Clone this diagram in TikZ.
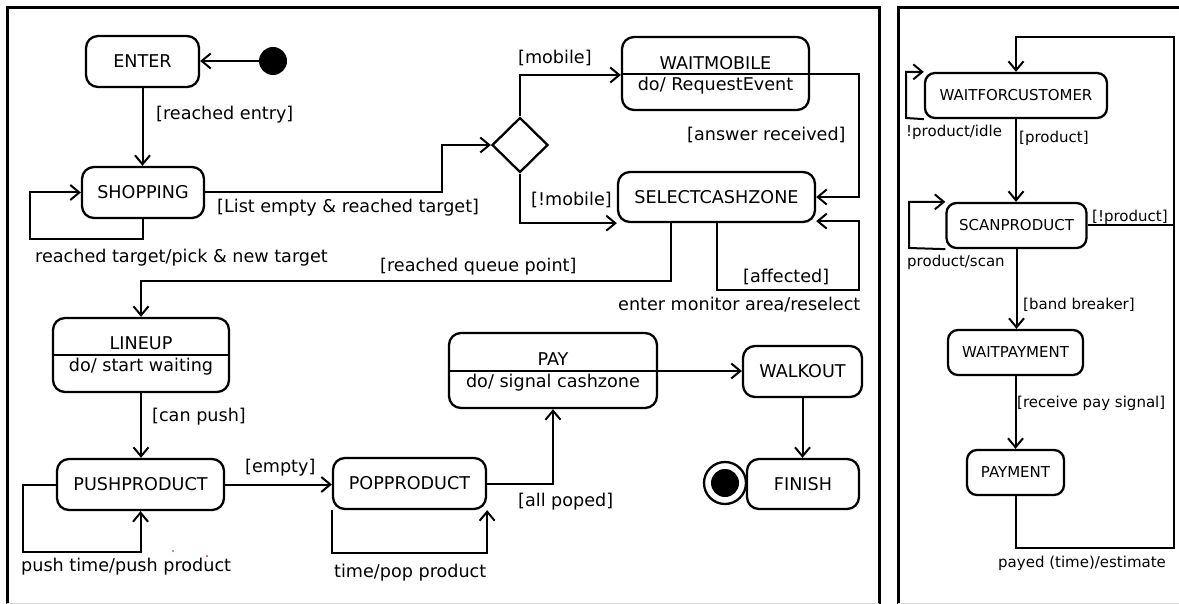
\documentclass[tikz,border=0pt]{standalone}
\usepackage{fontspec}
\setmainfont{DejaVu Sans}
\usetikzlibrary{arrows.meta,shapes.geometric,calc}
\newcommand\mainsize{\fontsize{17.6}{20}\selectfont}
\newcommand\sidesize{\fontsize{15}{18}\selectfont}
\tikzset{
  statebox/.style={draw, line width=2.3pt, rounded corners=12pt, inner sep=0pt, font=\mainsize},
  sidebox/.style={draw, line width=2.3pt, rounded corners=10pt, inner sep=0pt, font=\sidesize},
  txt/.style={inner sep=0pt, font=\mainsize},
  lbl/.style={inner sep=0pt, anchor=west, font=\mainsize},
  slbl/.style={inner sep=0pt, anchor=west, font=\sidesize},
  wire/.style={line width=2pt},
  conn/.style={wire, -{Straight Barb[length=9pt,width=15pt]}},
  frame/.style={line width=3pt},
}
\begin{document}
\begin{tikzpicture}[x=1pt,y=-1pt]
\useasboundingbox (0,0) rectangle (1179,604);
\fill[white] (0,0) rectangle (1179,604);

% panel frames
\draw[frame] (7,604) -- (7,7.5) -- (879,7.5) -- (879,604);
\draw[frame] (898,604) -- (898,7.5) -- (1181,7.5);
\draw[black!15, line width=1pt] (7,603) -- (879,603) (898,603) -- (1179,603);

% ---------- customer state machine ----------
\node[circle, fill=black, minimum size=28pt, inner sep=0pt] (init) at (273,61) {};
\node[statebox, minimum width=113pt, minimum height=51pt] (enter) at (142.5,61.5) {ENTER};
\node[statebox, minimum width=122pt, minimum height=51pt] (shopping) at (143,192.5) {SHOPPING};
\node[draw, diamond, line width=2.3pt, minimum width=56pt, minimum height=55pt, inner sep=0pt] (dec) at (520,145) {};

\node[statebox, minimum width=187pt, minimum height=73pt] (waitmobile) at (715.5,73.5) {};
\draw[line width=2pt] (waitmobile.west |- 0,74) -- (waitmobile.east |- 0,74);
\node[txt] (wmtitle) at (715.5,63) {WAITMOBILE};
\node[txt] (wmdo) at (715.5,85.5) {do/ RequestEvent};

\node[statebox, minimum width=197pt, minimum height=50pt] (select) at (716.5,197) {SELECTCASHZONE};

\node[statebox, minimum width=176pt, minimum height=74pt] (lineup) at (141,355) {};
\draw[line width=2pt] (lineup.west |- 0,355) -- (lineup.east |- 0,355);
\node[txt] (lutitle) at (141,343) {LINEUP};
\node[txt] (ludo) at (141,366.5) {do/ start waiting};

\node[statebox, minimum width=167pt, minimum height=51pt] (push) at (140.5,484.5) {PUSHPRODUCT};
\node[statebox, minimum width=153pt, minimum height=51pt] (pop) at (409.5,483.5) {POPPRODUCT};

\node[statebox, minimum width=208pt, minimum height=75pt] (pay) at (553,370.5) {};
\draw[line width=2pt] (pay.west |- 0,371) -- (pay.east |- 0,371);
\node[txt] (paytitle) at (553,359) {PAY};
\node[txt] (paydo) at (553,382.5) {do/ signal cashzone};

\node[statebox, minimum width=119pt, minimum height=51pt] (walkout) at (802.5,371.5) {WALKOUT};
\node[statebox, minimum width=112pt, minimum height=50pt] (finish) at (803,484) {FINISH};
\node[circle, draw, line width=2.3pt, minimum size=42pt, inner sep=0pt] (final) at (725,483) {};
\node[circle, fill=black, minimum size=28pt, inner sep=0pt] (finaldot) at (725,483) {};

% transitions
\draw[conn] (init) -- (enter.east |- init);
\draw[conn] (enter.south) -- (enter.south |- shopping.north);
\node[lbl] at (156,115) {[reached entry]};

\draw[conn] (shopping.south) |- (30,239) |- (shopping.west);
\node[lbl] at (35,258) {reached target/pick \& new target};

\draw[conn] (shopping.east) -| (442,145) -- (dec.west);
\node[lbl] at (217,208) {[List empty \& reached target]};

\draw[conn] (dec.north) |- (waitmobile.west |- 0,75);
\node[lbl] at (518,58) {[mobile]};

\draw[conn] (dec.south) |- (select.south west);
\node[lbl] at (531,200) {[!mobile]};

\draw[conn] (waitmobile.east |- 0,74) -- (859,74) |- (select.east);
\node[lbl] at (687,135) {[answer received]};

\draw[conn] (select.south) |- (859,290) |- ([yshift=2pt]select.south east);
\node[lbl] at (743,277) {[affected]};
\node[lbl] at (618,305) {enter monitor area/reselect};

\draw[conn] ([xshift=-45.5pt]select.south) |- (lineup.north |- 0,281) -- (lineup.north);
\node[lbl] at (380,267) {[reached queue point]};

\draw[conn] (lineup.south) -- (lineup.south |- push.north);
\node[lbl] at (152,417) {[can push]};

\draw[conn] (push.west) -- (23,484.5) |- (push.south |- 0,552) -- (push.south);
\node[lbl] at (21,567) {push time/push product};
\fill[red] (173,551) circle (0.9pt) (207,556) circle (1pt);

\draw[conn] (push.east) -- (push.east -| pop.west);
\node[lbl] at (245,468) {[empty]};

\draw[conn] (pop.south west) |- (pop.south east |- 0,553) -- (pop.south east);
\node[lbl] at (334,573) {time/pop product};

\draw[conn] (pop.east) -| (pay.south);
\node[lbl] at (518,502) {[all poped]};

\draw[conn] (pay.east |- 0,371) -- (walkout.west |- 0,371);
\draw[conn] (walkout.south) -- (walkout.south |- finish.north);

% ---------- cash desk state machine ----------
\node[sidebox, minimum width=182pt, minimum height=45pt] (wfc) at (1016,95.5) {WAITFORCUSTOMER};
\node[sidebox, minimum width=140pt, minimum height=45pt] (scan) at (1016.5,225.5) {SCANPRODUCT};
\node[sidebox, minimum width=135pt, minimum height=45pt] (waitpay) at (1015.5,352.5) {WAITPAYMENT};
\node[sidebox, minimum width=97pt, minimum height=45pt] (payment) at (1015.5,472.5) {PAYMENT};

\draw[conn] (payment.south) |- (1174,548) -- (1174,37) -| (wfc.north);
\node[slbl] at (998,563) {payed (time)/estimate};

\draw[conn] (wfc.south west) -- (906,118) |- (wfc.north west);
\node[slbl] at (906,132) {!product/idle};

\draw[conn] (wfc.south) -- (wfc.south |- scan.north);
\node[slbl] at (1019,138) {[product]};

\draw[conn] (scan.south west) -- (909,248) |- (scan.north west);
\node[slbl] at (907,262) {product/scan};

\draw[wire] (scan.east) -- (1174,225.5);
\node[slbl] at (1092,217) {[!product]};

\draw[conn] (scan.south) -- (scan.south |- waitpay.north);
\node[slbl] at (1023,305) {[band breaker]};

\draw[conn] (waitpay.south) -- (waitpay.south |- payment.north);
\node[slbl] at (1017,403) {[receive pay signal]};
\end{tikzpicture}
\end{document}
